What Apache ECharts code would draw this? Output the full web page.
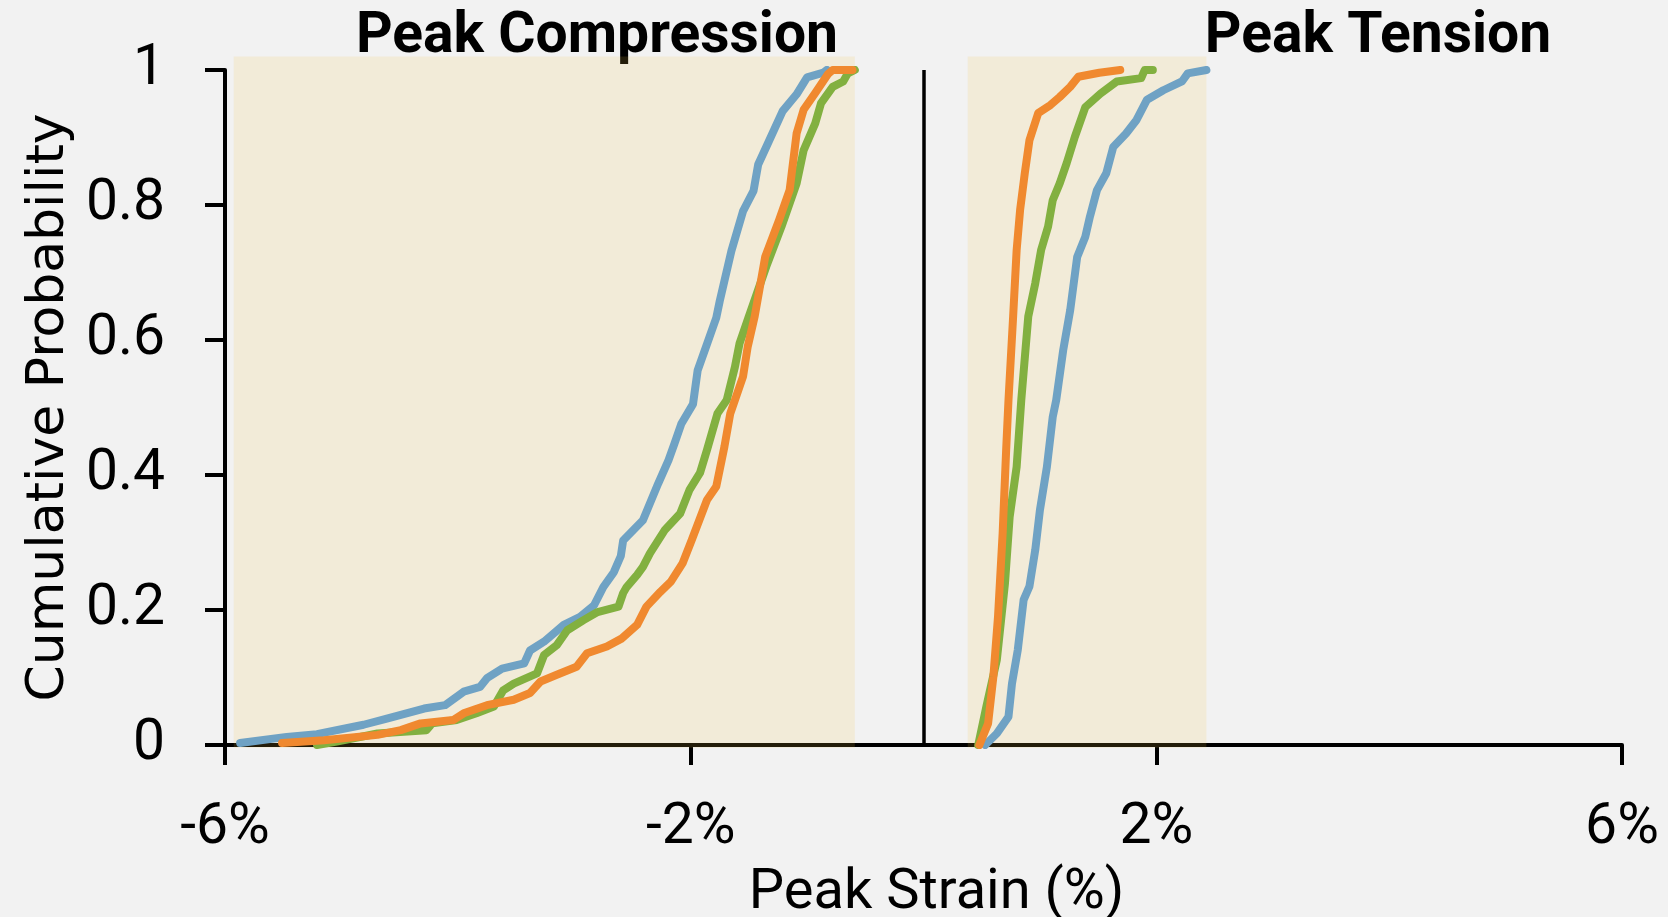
<!DOCTYPE html>
<html>
<head>
<meta charset="utf-8">
<title>Peak Strain CDF</title>
<script src="https://cdn.jsdelivr.net/npm/echarts@6/dist/echarts.min.js"></script>
<style>
  html, body { margin: 0; padding: 0; background: #f2f2f2; }
  #chart { width: 1668px; height: 917px; }
</style>
</head>
<body>
<div id="chart"></div>
<script>
// x tick labels (strain, %)
const xTicks = [-6, -2, 2, 6];

// shaded ranges [from, to] in strain %
const compBand = [-5.925, -0.59];
const tensBand = [0.38, 2.43];

// compression, [strain %, cumulative probability]
const compBlue = [[-5.87,0.003],[-5.47,0.012],[-5.21,0.016],[-4.81,0.030],[-4.61,0.039],[-4.29,0.054],[-4.11,0.059],[-3.95,0.079],[-3.81,0.086],[-3.75,0.099],[-3.62,0.113],[-3.43,0.121],[-3.38,0.140],[-3.26,0.153],[-3.09,0.178],[-2.95,0.190],[-2.83,0.207],[-2.75,0.234],[-2.66,0.256],[-2.60,0.280],[-2.58,0.303],[-2.41,0.333],[-2.28,0.387],[-2.19,0.422],[-2.14,0.446],[-2.08,0.476],[-1.98,0.505],[-1.94,0.555],[-1.86,0.594],[-1.78,0.633],[-1.75,0.658],[-1.65,0.732],[-1.55,0.791],[-1.46,0.821],[-1.42,0.860],[-1.34,0.890],[-1.21,0.939],[-1.09,0.964],[-1.00,0.989],[-0.86,0.996],[-0.83,1.0]];
const compGreen = [[-5.21,0.0],[-5.04,0.005],[-4.69,0.017],[-4.27,0.022],[-4.22,0.032],[-4.01,0.037],[-3.84,0.047],[-3.69,0.057],[-3.61,0.081],[-3.52,0.091],[-3.32,0.106],[-3.26,0.133],[-3.15,0.148],[-3.06,0.170],[-2.92,0.185],[-2.80,0.197],[-2.62,0.205],[-2.58,0.225],[-2.55,0.234],[-2.46,0.252],[-2.41,0.264],[-2.35,0.284],[-2.22,0.319],[-2.09,0.343],[-2.01,0.378],[-1.92,0.403],[-1.86,0.437],[-1.77,0.491],[-1.69,0.511],[-1.62,0.560],[-1.58,0.595],[-1.50,0.635],[-1.35,0.709],[-1.22,0.768],[-1.09,0.832],[-1.03,0.881],[-0.93,0.921],[-0.88,0.951],[-0.78,0.975],[-0.69,0.983],[-0.65,0.995],[-0.59,1.0]];
const compOrange = [[-5.51,0.003],[-5.15,0.007],[-4.69,0.015],[-4.49,0.022],[-4.32,0.032],[-4.04,0.037],[-3.95,0.047],[-3.75,0.059],[-3.52,0.067],[-3.38,0.077],[-3.29,0.094],[-3.15,0.104],[-2.98,0.116],[-2.89,0.136],[-2.72,0.146],[-2.59,0.158],[-2.46,0.178],[-2.38,0.205],[-2.26,0.227],[-2.17,0.242],[-2.07,0.269],[-1.99,0.304],[-1.86,0.363],[-1.78,0.383],[-1.71,0.442],[-1.66,0.491],[-1.55,0.546],[-1.51,0.590],[-1.45,0.635],[-1.36,0.723],[-1.24,0.778],[-1.15,0.822],[-1.09,0.906],[-1.03,0.941],[-0.93,0.966],[-0.82,0.994],[-0.78,1.0],[-0.61,1.0]];

// tension
const tensBlue = [[0.53,0.0],[0.63,0.017],[0.73,0.042],[0.76,0.091],[0.81,0.141],[0.86,0.215],[0.91,0.235],[0.96,0.289],[1.00,0.348],[1.06,0.412],[1.11,0.486],[1.14,0.511],[1.20,0.585],[1.26,0.644],[1.32,0.723],[1.39,0.753],[1.43,0.783],[1.49,0.822],[1.57,0.847],[1.63,0.886],[1.74,0.906],[1.83,0.926],[1.92,0.956],[2.06,0.970],[2.22,0.983],[2.27,0.995],[2.43,1.0]];
const tensGreen = [[0.47,0.0],[0.54,0.057],[0.63,0.126],[0.70,0.240],[0.74,0.338],[0.80,0.412],[0.84,0.511],[0.90,0.635],[0.96,0.684],[1.01,0.733],[1.07,0.768],[1.11,0.807],[1.17,0.832],[1.23,0.862],[1.30,0.901],[1.39,0.945],[1.52,0.965],[1.66,0.983],[1.87,0.988],[1.90,1.0],[1.97,1.0]];
const tensOrange = [[0.48,0.0],[0.555,0.032],[0.60,0.101],[0.64,0.190],[0.68,0.314],[0.71,0.437],[0.73,0.511],[0.77,0.635],[0.80,0.733],[0.83,0.793],[0.87,0.847],[0.91,0.896],[0.985,0.936],[1.09,0.948],[1.17,0.960],[1.26,0.975],[1.33,0.990],[1.51,0.996],[1.69,1.0]];

const blue = "#6fa2c4";
const green = "#82b040";
const orange = "#f0892f";

let myChart = echarts.init(document.getElementById("chart"));

function curve(data, color) {
  return {
    type: "line",
    data: data,
    showSymbol: false,
    symbol: "none",
    z: 3,
    itemStyle: { color: color },
    lineStyle: { color: color, width: 8, cap: "round", join: "round" },
    emphasis: { disabled: true },
    animation: false,
  };
}

let option = {
  backgroundColor: "#f2f2f2",
  animation: false,
  grid: { left: 225, right: 46, top: 70, bottom: 172, containLabel: false, outerBoundsMode: "none" },
  xAxis: {
    type: "value",
    min: -6,
    max: 6,
    interval: 2,
    name: "Peak Strain (%)",
    nameLocation: "middle",
    nameGap: 121,
    nameTextStyle: { fontFamily: "Roboto", fontSize: 56, color: "#000", padding: [0, 0, 0, 26] },
    axisLine: { onZero: false, lineStyle: { color: "#000", width: 4 } },
    axisTick: { show: true, length: 20, lineStyle: { color: "#000", width: 4 }, customValues: xTicks },
    axisLabel: {
      customValues: xTicks,
      margin: 55,
      fontFamily: "Roboto",
      fontSize: 57,
      color: "#000",
      formatter: (v) => v + "%",
    },
    splitLine: { show: false },
  },
  yAxis: {
    type: "value",
    min: 0,
    max: 1,
    interval: 0.2,
    name: "Cumulative Probability",
    nameLocation: "middle",
    nameGap: 150,
    nameTextStyle: { fontFamily: "DejaVu Sans", fontSize: 52, color: "#000" },
    axisLine: { show: true, onZero: false, lineStyle: { color: "#000", width: 4 } },
    axisTick: { show: true, length: 20, lineStyle: { color: "#000", width: 4 } },
    axisLabel: {
      margin: 60,
      fontFamily: "Roboto",
      fontSize: 57,
      color: "#000",
      formatter: (v) => String(+v.toFixed(1)),
    },
    splitLine: { show: false },
  },
  graphic: [
    {
      type: "text",
      x: 597,
      y: 9,
      style: { text: "Peak Compression", fontFamily: "Roboto", fontWeight: "bold", fontSize: 57, fill: "#000", textAlign: "center" },
    },
    {
      type: "text",
      x: 1378,
      y: 9,
      style: { text: "Peak Tension", fontFamily: "Roboto", fontWeight: "bold", fontSize: 57, fill: "#000", textAlign: "center" },
    },
  ],
  series: [
    // 背景色带
    {
      type: "custom",
      z: 1,
      silent: true,
      data: [compBand, tensBand],
      renderItem: function (params, api) {
        const p0 = api.coord([api.value(0), 1.02]);
        const p1 = api.coord([api.value(1), -0.004]);
        return {
          type: "rect",
          shape: { x: p0[0], y: p0[1], width: p1[0] - p0[0], height: p1[1] - p0[1] },
          style: { fill: "rgba(241,193,69,0.15)" },
        };
      },
    },
    Object.assign(curve(compBlue, blue), {
      markLine: {
        silent: true,
        symbol: "none",
        label: { show: false },
        lineStyle: { color: "#000", width: 3.5, type: "solid" },
        data: [[{ coord: [0, 0] }, { coord: [0, 1] }]],
      },
    }),
    curve(tensBlue, blue),
    curve(compGreen, green),
    curve(tensGreen, green),
    curve(compOrange, orange),
    curve(tensOrange, orange),
  ],
};
myChart.setOption(option);
window.onresize = myChart.resize;
</script>
</body>
</html>
